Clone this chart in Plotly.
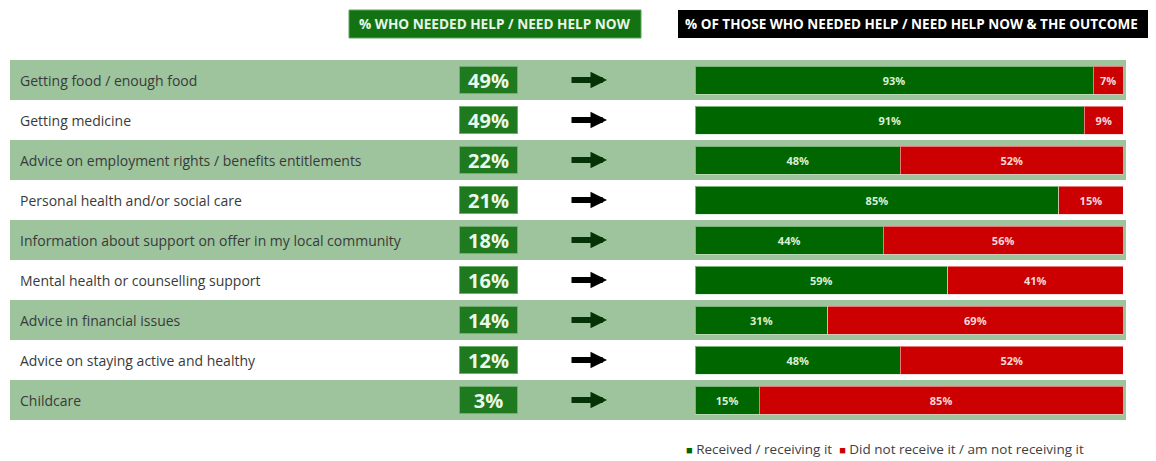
import plotly.graph_objects as go

categories = [
    "Getting food / enough food",
    "Getting medicine",
    "Advice on employment rights / benefits entitlements",
    "Personal health and/or social care",
    "Information about support on offer in my local community",
    "Mental health or counselling support",
    "Advice in financial issues",
    "Advice on staying active and healthy",
    "Childcare",
]
needed_help = [49, 49, 22, 21, 18, 16, 14, 12, 3]
received = [93, 91, 48, 85, 44, 59, 31, 48, 15]
not_received = [7, 9, 52, 15, 56, 41, 69, 52, 85]

header_left = "% WHO NEEDED HELP / NEED HELP NOW"
header_right = "% OF THOSE WHO NEEDED HELP / NEED HELP NOW & THE OUTCOME"
legend_names = ["Received / receiving it", "Did not receive it / am not receiving it"]

OFF = 8  # page body margin
W, H = 1156 - OFF, 461 - OFF
GREEN = "#006600"
RED = "#cc0000"
BAND = "#9dc49d"
BOXGREEN = "#1f7a1f"
FONT = "Open Sans"

def px(x):
    return (x - OFF) / W

def py(y):
    return (H - (y - OFF)) / H

fig = go.Figure()
fig.add_trace(go.Bar(
    y=categories, x=received, orientation="h", name=legend_names[0],
    marker=dict(color=GREEN, line=dict(width=1, color="rgba(200,235,200,0.6)")), width=0.7,
    text=[f"{v}%" for v in received], textposition="inside",
    insidetextanchor="middle", constraintext="none",
    textfont=dict(family=FONT, size=11, color="#d8f0d8", weight="bold"),
))
fig.add_trace(go.Bar(
    y=categories, x=not_received, orientation="h", name=legend_names[1],
    marker=dict(color=RED, line=dict(width=1, color="rgba(255,200,200,0.6)")), width=0.7,
    text=[f"{v}%" for v in not_received], textposition="inside",
    insidetextanchor="middle", constraintext="none",
    textfont=dict(family=FONT, size=11, color="#f5d8d8", weight="bold"),
))

shapes = []
annotations = []
for i, cat in enumerate(categories):
    if i % 2 == 0:
        shapes.append(dict(type="rect", xref="paper", yref="y",
                           x0=px(10), x1=px(1126), y0=i - 0.5, y1=i + 0.5,
                           fillcolor=BAND, line=dict(width=0), layer="below"))
    annotations.append(dict(xref="paper", yref="y", x=px(18), y=cat,
                            text=cat, showarrow=False, xanchor="left",
                            font=dict(family=FONT, size=14, color="#3a3a3a")))
    annotations.append(dict(xref="paper", yref="y", x=px(488), y=cat,
                            text=f"<b>{needed_help[i]}%</b>", showarrow=False,
                            xanchor="center",
                            bgcolor=BOXGREEN, bordercolor="#6fae6f", borderwidth=1,
                            width=55, height=24, borderpad=1,
                            font=dict(family=FONT, size=20, color="#eaf8ea")))
    annotations.append(dict(xref="paper", yref="y", x=px(607), y=cat,
                            text="", showarrow=True, ax=-37, ay=0,
                            arrowhead=2, arrowsize=0.55, arrowwidth=6,
                            arrowcolor="#053305" if i % 2 == 0 else "black",
                            standoff=0, startstandoff=0))

# headers
shapes.append(dict(type="rect", xref="paper", yref="paper",
                   x0=px(349), x1=px(641), y0=py(38), y1=py(10),
                   fillcolor="#137313", line=dict(width=1, color="#5da55d")))
shapes.append(dict(type="rect", xref="paper", yref="paper",
                   x0=px(678), x1=px(1175), y0=py(38), y1=py(10),
                   fillcolor="black", line=dict(width=0)))
annotations.append(dict(xref="paper", yref="paper", x=px(495), y=py(24),
                        text=f"<b>{header_left}</b>", showarrow=False,
                        xanchor="center", yanchor="middle",
                        font=dict(family=FONT, size=13.6, color="#e8f5e8")))
annotations.append(dict(xref="paper", yref="paper", x=px(683), y=py(24),
                        text=f"<b>{header_right}</b>", showarrow=False,
                        xanchor="left", yanchor="middle",
                        font=dict(family=FONT, size=13.5, color="white")))

# legend (small square markers as text)
annotations.append(dict(xref="paper", yref="paper", x=px(684), y=py(449),
                        xanchor="left", yanchor="middle", showarrow=False,
                        text=(f"<span style='color:{GREEN};font-size:11px'>■</span> {legend_names[0]}  "
                              f"<span style='color:{RED};font-size:11px'>■</span> {legend_names[1]}"),
                        font=dict(family=FONT, size=13.5, color="#404040")))

fig.update_layout(
    width=W, height=H,
    margin=dict(l=0, r=0, t=0, b=0),
    paper_bgcolor="white", plot_bgcolor="rgba(0,0,0,0)",
    barmode="stack",
    xaxis=dict(domain=[px(695), px(1123)], range=[0, 100], visible=False, fixedrange=True),
    yaxis=dict(domain=[py(420), py(60)], range=[8.5, -0.5], visible=False,
               categoryorder="array", categoryarray=categories),
    shapes=shapes, annotations=annotations,
    showlegend=False,
)

fig.write_html("out.html")
